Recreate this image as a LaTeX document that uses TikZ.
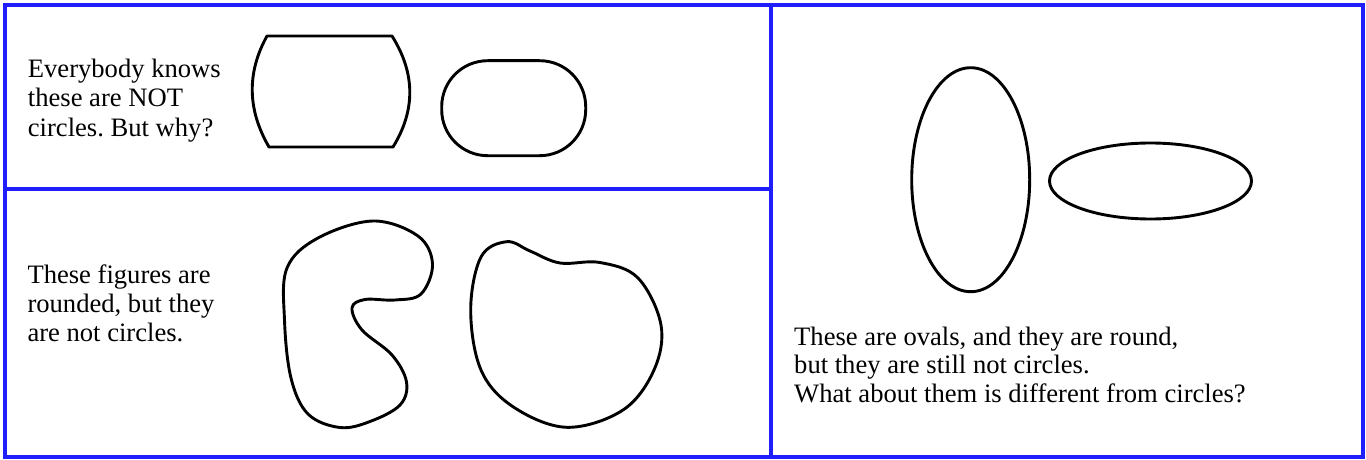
\documentclass[tikz,border=0pt]{standalone}
\usepackage{fontspec}
\setmainfont{Liberation Serif}
\definecolor{frameblue}{RGB}{30,30,255}
\frenchspacing
\begin{document}
\begin{tikzpicture}[x=1pt,y=-1pt,
  shapeline/.style={line width=2.9pt, line join=round, draw=black},
  frameline/.style={draw=frameblue, line width=4pt},
  txt/.style={anchor=base west, inner sep=0pt, font=\fontsize{26.6}{29.5}\selectfont}]
\useasboundingbox (0,0) rectangle (1366,460);
\fill[white] (0,0) rectangle (1366,460);
% frame
\draw[frameline] (5,5) rectangle (1363,457);
\draw[frameline] (5,189) -- (770.5,189);
\draw[frameline] (770.5,5) -- (770.5,457);
% barrel
\draw[shapeline] (392,36) -- (267,36) .. controls (246.5,73) and (247.5,110) .. (269,147) -- (393,147) .. controls (415.8,110) and (415.3,73) .. (392,36) -- cycle;
% stadium
\draw[shapeline, rounded corners=46pt] (441.7,60.7) rectangle (585.7,155.7);
% ovals
\draw[shapeline] (970.7,179.7) ellipse [x radius=59, y radius=112];
\draw[shapeline] (1150.5,181) ellipse [x radius=101, y radius=38];
% blob 1
\draw[shapeline] plot[smooth cycle, tension=0.6] coordinates {
 (373,221) (418,236) (432.5,264) (421,294) (395,300) (365,299.5) (352,308)
 (362,330) (392,355) (406.5,382) (400,405) (370,421.5) (340,427.5)
 (308,414) (291,378) (284.5,320) (287,268) (318,238)};
% blob 2
\draw[shapeline] plot[smooth cycle, tension=0.6] coordinates {
 (506.7,241.7) (481,257) (470.7,310) (481,370) (513,406.7) (566.7,427.3)
 (623,410) (654,370) (661,325) (638,278) (600,262.5) (560,263) (530,251)};
% texts
\node[txt] (t1a) at (27.7,77.3) {Everybody knows};
\node[txt] (t1b) at (27.7,106.7) {these are NOT};
\node[txt] (t1c) at (27.7,136) {circles. But why?};
\node[txt] (t2a) at (27.3,283.3) {These figures are};
\node[txt] (t2b) at (27.3,312.7) {rounded, but they};
\node[txt] (t2c) at (27.3,341.7) {are not circles.};
\node[txt] (t3a) at (794,345) {These are ovals, and they are round,};
\node[txt] (t3b) at (794,373.5) {but they are still not circles.};
\node[txt] (t3c) at (794,402.3) {What about them is different from circles?};
\end{tikzpicture}
\end{document}
